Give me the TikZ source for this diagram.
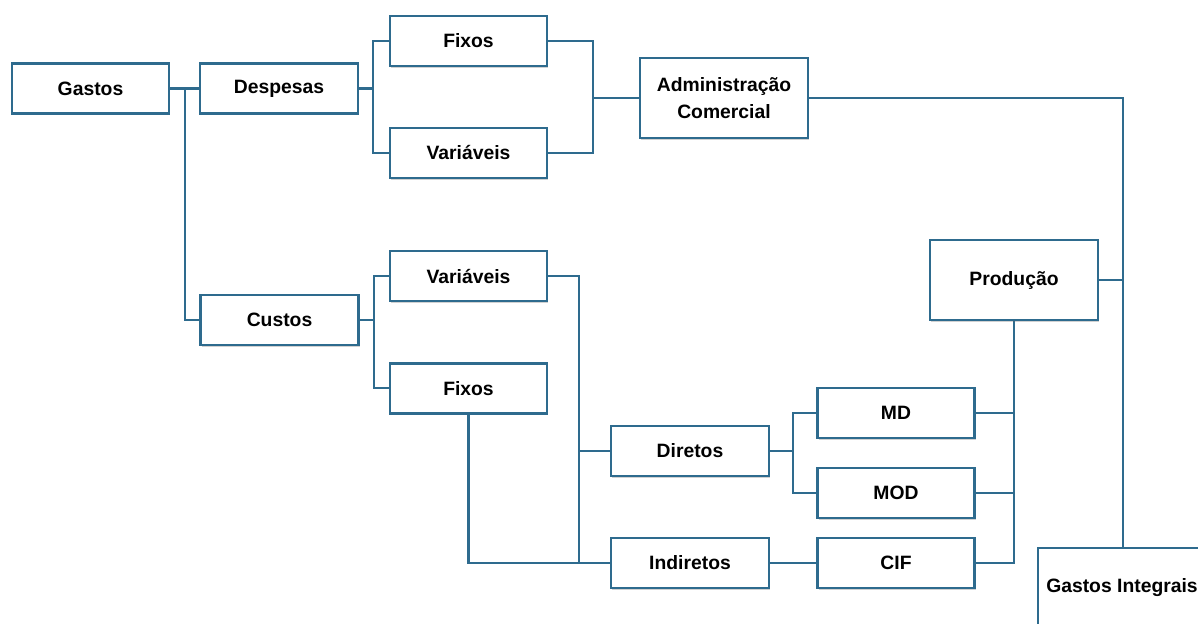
\documentclass[tikz,border=0pt]{standalone}
\usepackage{fontspec}
\setmainfont{Liberation Sans}
\usetikzlibrary{shadows}
\definecolor{edge}{HTML}{2E6B8E}
\tikzset{
  box/.style={draw=edge, line width=1.3pt, fill=white, inner sep=0pt, outer sep=0pt,
    font=\bfseries\fontsize{11}{15.5}\selectfont, align=center,
    drop shadow={shadow xshift=0.8pt, shadow yshift=-1.1pt, opacity=0.3, fill=black!60}},
  small/.style={box, minimum width=3.14cm, minimum height=1.0cm},
  large/.style={box, minimum width=3.36cm, minimum height=1.6cm},
  link/.style={draw=edge, line width=1.3pt},
}
\begin{document}
\begin{tikzpicture}[x=0.02cm, y=-0.02cm]
\useasboundingbox (0,0) rectangle (1198,623);
\clip (0,0) rectangle (1198,623);

% junction points of the connector brackets
\coordinate (gj) at (185,88.5);
\coordinate (dx) at (373,88.5);
\coordinate (ax) at (593,98);
\coordinate (cx) at (374,320);
\coordinate (vx) at (579,563);
\coordinate (dj) at (793,451);

% connectors
\draw[link] (gj) |- (280,320);
\draw[link] (90,88.5) -- (dx);
\draw[link] (468,41) -| (dx) |- (468,153);
\draw[link] (468,41) -| (ax) |- (468,153);
\draw[link] (ax) -- (724,98);
\draw[link] (724,98) -| (1123,588);
\draw[link] (1014,280) -- (1123,280);
\draw[link] (279,320) -- (cx);
\draw[link] (468,276) -| (cx) |- (468,388);
\draw[link] (468,276) -| (vx);
\draw[link] (468.5,388) |- (690,563);
\draw[link] (690,451) -- (579,451);
\draw[link] (690,451) -- (dj);
\draw[link] (896,413) -| (dj) |- (896,493);
\draw[link] (690,563) -- (896,563);
\draw[link] (1014,280) |- (896,563);
\draw[link] (896,413) -- (1014,413);
\draw[link] (896,493) -- (1014,493);

% boxes
\node[small] (gastos) at (90.5,88.5) {Gastos};
\node[small, minimum width=3.16cm] (despesas) at (279,88.5) {Despesas};
\node[small] (fixosA) at (468.5,41) {Fixos};
\node[small] (varA) at (468.5,153) {Variáveis};
\node[large] (admin) at (724,98) {Administração\\Comercial};
\node[small, minimum width=3.16cm] (custos) at (279.5,320) {Custos};
\node[small] (varB) at (468.5,276) {Variáveis};
\node[small] (fixosB) at (468.5,388.5) {Fixos};
\node[small, minimum width=3.16cm] (diretos) at (690,451) {Diretos};
\node[small, minimum width=3.16cm] (indiretos) at (690,563) {Indiretos};
\node[small] (md) at (896,413) {MD};
\node[small] (mod) at (896,493) {MOD};
\node[small] (cif) at (896,563) {CIF};
\node[large] (producao) at (1014,280) {Produção};
\node[large] (integ) at (1122,588) {Gastos Integrais};
\end{tikzpicture}
\end{document}
